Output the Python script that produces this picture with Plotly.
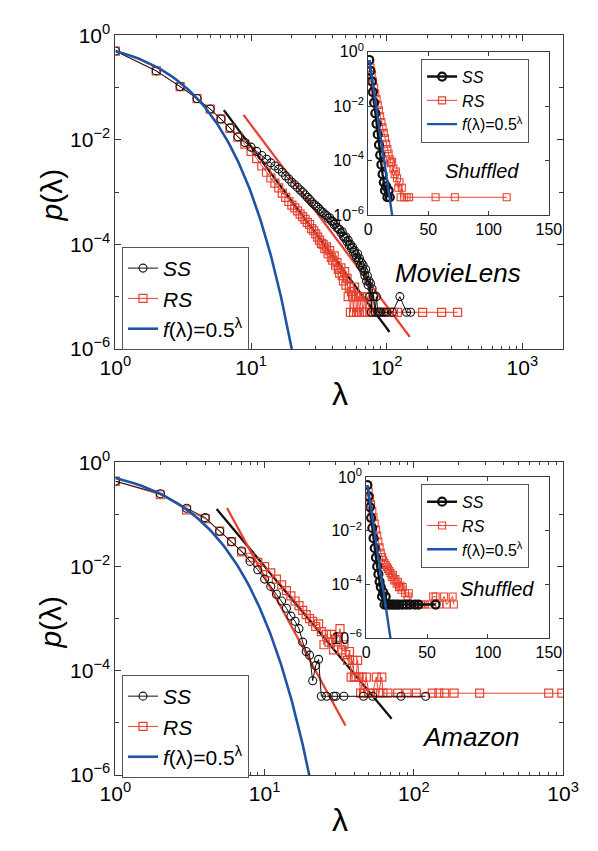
import numpy as np
import plotly.graph_objects as go

# ---------------- DATA ----------------
# MovieLens (main panel)
ss_ml_lam = list(range(1, 79)) + [80, 82, 84, 86, 88, 90, 95, 100, 110, 125, 140, 150]
ss_ml_log = [-0.30, -0.68, -0.98, -1.21, -1.41, -1.60, -1.77, -1.94, -2.05, -2.14,
             -2.22, -2.30, -2.37, -2.44, -2.50, -2.56, -2.62, -2.69, -2.75, -2.81,
             -2.86, -2.91, -2.96, -3.00, -3.05, -3.10, -3.14, -3.19, -3.23, -3.26,
             -3.29, -3.33, -3.37, -3.39, -3.43, -3.45, -3.50, -3.49, -3.55, -3.56,
             -3.62, -3.60, -3.68, -3.70, -3.72, -3.78, -3.76, -3.85, -3.88, -3.86,
             -3.95, -3.92, -4.02, -4.00, -4.08, -4.05, -4.15, -4.12, -4.20, -4.25,
             -4.18, -4.30, -4.27, -4.40, -4.35, -4.45, -4.40, -4.52, -4.60, -4.48,
             -4.70, -4.60, -4.78, -4.70, -5.00, -4.75, -5.30, -4.85,
             -5.00, -5.30, -5.00, -5.30, -5.30, -5.30, -5.30, -5.30, -5.30, -5.00, -5.30, -5.30]
rs_ml_lam = list(range(1, 61)) + [62, 63, 65, 67, 69, 70, 72, 75, 78, 80, 83, 87, 90, 95,
                                  100, 105, 112, 120, 184, 254, 333]
rs_ml_log = [-0.30, -0.68, -0.98, -1.21, -1.41, -1.60, -1.78, -1.95, -2.08, -2.22,
             -2.36, -2.50, -2.62, -2.73, -2.83, -2.92, -3.02, -3.10, -3.18, -3.25,
             -3.30, -3.36, -3.42, -3.47, -3.52, -3.58, -3.62, -3.70, -3.74, -3.80,
             -3.86, -3.92, -3.98, -4.00, -4.08, -4.05, -4.18, -4.12, -4.25, -4.30,
             -4.22, -4.40, -4.35, -4.48, -4.55, -4.45, -4.60, -4.70, -4.52, -4.78,
             -4.65, -5.00, -4.82, -5.30, -4.90, -5.00, -5.30, -4.82, -5.00, -5.30,
             -5.00, -5.30, -5.00, -5.30, -5.00, -5.30, -5.00, -5.30, -5.30, -5.00,
             -5.30, -5.30, -5.30, -5.30, -5.30, -5.30, -5.30, -5.30, -5.30, -5.30, -5.30]
fit_ss_ml_lam = [6.3, 105]
fit_ss_ml_p = [0.037, 2.1e-6]
fit_rs_ml_lam = [8.8, 148]
fit_rs_ml_p = [0.030, 1.7e-6]

# MovieLens shuffled (inset)
ss_mls_lam = list(range(1, 19))
ss_mls_log = [-0.30, -0.70, -1.09, -1.48, -1.87, -2.26, -2.65, -3.04, -3.42, -3.80,
              -4.15, -4.50, -4.80, -5.10, -4.95, -5.35, -5.10, -5.35]
rs_mls_lam = list(range(1, 29)) + [30, 32, 34, 56, 72, 115]
rs_mls_log = [-0.30, -0.58, -0.84, -1.08, -1.31, -1.53, -1.74, -1.95, -2.16, -2.37,
              -2.58, -2.78, -2.98, -3.18, -3.38, -3.58, -3.75, -3.95, -4.10, -4.05,
              -4.30, -4.50, -4.40, -4.65, -5.00, -4.80, -5.35, -5.00,
              -5.35, -5.35, -5.35, -5.35, -5.35, -5.35]

# Amazon (main panel)
ss_am_lam = list(range(1, 25)) + [26, 29, 30, 34, 46, 53, 82, 120]
ss_am_log = [-0.36, -0.60, -0.88, -1.06, -1.32, -1.52, -1.70, -1.90, -2.06, -2.24,
             -2.38, -2.53, -2.66, -2.80, -2.95, -3.05, -3.19, -3.45, -3.63, -3.70,
             -4.19, -3.90, -3.78, -4.49,
             -4.49, -4.49, -4.49, -4.49, -4.49, -4.49, -4.49, -4.49]
rs_am_lam = list(range(1, 47)) + [48, 50, 53, 56, 58, 61, 62, 67, 78, 90, 104, 133, 147,
                                  161, 186, 276, 801, 981]
rs_am_log = [-0.36, -0.62, -0.91, -1.08, -1.32, -1.52, -1.72, -1.82, -1.92, -2.00,
             -2.12, -2.24, -2.35, -2.46, -2.56, -2.66, -2.75, -2.84, -2.92, -3.00,
             -3.05, -3.15, -3.10, -3.25, -3.50, -3.30, -3.45, -3.30, -3.60, -3.40,
             -3.36, -3.19, -3.60, -3.50, -3.69, -3.80, -3.63, -4.12, -3.80, -4.12,
             -4.12, -3.80, -4.12, -4.43, -4.12, -4.43,
             -4.12, -4.43, -4.43, -4.12, -4.43, -4.12, -4.43, -4.43, -4.43, -4.43,
             -4.43, -4.43, -4.43, -4.43, -4.43, -4.43, -4.43, -4.43]
fit_ss_am_lam = [4.77, 71]
fit_ss_am_p = [0.128, 1.2e-5]
fit_rs_am_lam = [5.6, 34.8]
fit_rs_am_p = [0.133, 8.9e-6]

# Amazon shuffled (inset)
ss_ams_lam = list(range(1, 18)) + [19, 21, 23, 25, 27, 30, 33, 36, 40, 43, 57]
ss_ams_log = [-0.30, -0.72, -1.12, -1.52, -1.90, -2.28, -2.65, -3.00, -3.33, -3.62,
              -3.90, -4.10, -4.45, -4.30, -4.75, -4.45, -4.75,
              -4.75, -4.75, -4.75, -4.75, -4.75, -4.75, -4.75, -4.75, -4.75, -4.75, -4.75]
rs_ams_lam = list(range(1, 31)) + [32, 34, 35, 36, 38, 40, 42, 45, 48, 52, 55, 57, 60, 64, 66, 71, 72]
rs_ams_log = [-0.30, -0.54, -0.78, -1.02, -1.26, -1.50, -1.73, -1.96, -2.18, -2.40,
              -2.62, -2.82, -2.98, -3.10, -3.20, -3.28, -3.35, -3.42, -3.50, -3.58,
              -3.72, -3.65, -3.85, -3.80, -3.97, -3.90, -4.10, -4.05, -4.20, -4.10,
              -4.33, -4.45, -4.33, -4.75, -4.75, -4.75, -4.75, -4.75, -4.75, -4.75,
              -4.45, -4.45, -4.75, -4.45, -4.75, -4.45, -4.75]

# reference function f(lambda) = 0.5^lambda
f_lam = np.linspace(1, 20.5, 120)
f_val = 0.5 ** f_lam

# tick labels
main_x_tickvals = [1, 10, 100, 1000]
main_x_ticktext = ["10<sup>0</sup>", "10<sup>1</sup>", "10<sup>2</sup>", "10<sup>3</sup>"]
y_tickvals = [1e-6, 1e-4, 1e-2, 1]
y_ticktext = ["10<sup>\u22126</sup>", "10<sup>\u22124</sup>", "10<sup>\u22122</sup>", "10<sup>0</sup>"]
y_minorvals = [1e-5, 1e-3, 1e-1]
in_y_tickvals = [1e-6, 1e-4, 1e-2, 1]
in_y_ticktext = ["10<sup>\u22126</sup>", "10<sup>\u22124</sup>", "10<sup>\u22122</sup>", "10<sup>0</sup>"]
in_x_tickvals = [0, 50, 100, 150]
in_x_ticktext = ["0", "50", "100", "150"]

# ---------------- STYLE ----------------
W, H = 598, 851
BLACK = "#111111"
RED = "#e8412f"
BLUE = "#1f53a3"
AXC = "#3a3a3a"
INC = "#2e3d4c"
FONT = "Arial, Liberation Sans, sans-serif"


def px(x):
    return x / W


def py(y):
    return 1 - y / H


def p(vals):
    return [10 ** v for v in vals]


fig = go.Figure()

panels = [
    dict(xa="x", ya="y", xa2="x2", ya2="y2", leg="legend", leg2="legend2",
         ss=(ss_ml_lam, ss_ml_log), rs=(rs_ml_lam, rs_ml_log),
         fss=(fit_ss_ml_lam, fit_ss_ml_p), frs=(fit_rs_ml_lam, fit_rs_ml_p),
         sss=(ss_mls_lam, ss_mls_log), rss=(rs_mls_lam, rs_mls_log)),
    dict(xa="x3", ya="y3", xa2="x4", ya2="y4", leg="legend3", leg2="legend4",
         ss=(ss_am_lam, ss_am_log), rs=(rs_am_lam, rs_am_log),
         fss=(fit_ss_am_lam, fit_ss_am_p), frs=(fit_rs_am_lam, fit_rs_am_p),
         sss=(ss_ams_lam, ss_ams_log), rss=(rs_ams_lam, rs_ams_log)),
]

for P in panels:
    # main
    fig.add_trace(go.Scatter(x=P["fss"][0], y=P["fss"][1], mode="lines",
                             line=dict(color=BLACK, width=2.3), showlegend=False,
                             xaxis=P["xa"], yaxis=P["ya"]))
    fig.add_trace(go.Scatter(x=P["frs"][0], y=P["frs"][1], mode="lines",
                             line=dict(color=RED, width=2.3), showlegend=False,
                             xaxis=P["xa"], yaxis=P["ya"]))
    fig.add_trace(go.Scatter(x=P["rs"][0], y=p(P["rs"][1]), mode="lines+markers", name="<i>RS</i>",
                             line=dict(color=RED, width=1),
                             marker=dict(symbol="square-open", size=8, color=RED, line=dict(width=1.2)),
                             legend=P["leg"], legendrank=2, xaxis=P["xa"], yaxis=P["ya"]))
    fig.add_trace(go.Scatter(x=P["ss"][0], y=p(P["ss"][1]), mode="lines+markers", name="<i>SS</i>",
                             line=dict(color=BLACK, width=1),
                             marker=dict(symbol="circle-open", size=8, color=BLACK, line=dict(width=1.1)),
                             legend=P["leg"], legendrank=1, xaxis=P["xa"], yaxis=P["ya"]))
    fig.add_trace(go.Scatter(x=f_lam, y=f_val, mode="lines", name="<i>f</i>(\u03bb)=0.5<sup>\u03bb</sup>",
                             line=dict(color=BLUE, width=2.6),
                             legend=P["leg"], legendrank=3, xaxis=P["xa"], yaxis=P["ya"]))
    # inset
    fig.add_trace(go.Scatter(x=P["rss"][0], y=p(P["rss"][1]), mode="lines+markers", name="<i>RS</i>",
                             line=dict(color=RED, width=1),
                             marker=dict(symbol="square-open", size=7, color=RED, line=dict(width=1.1)),
                             legend=P["leg2"], legendrank=2, xaxis=P["xa2"], yaxis=P["ya2"]))
    fig.add_trace(go.Scatter(x=P["sss"][0], y=p(P["sss"][1]), mode="lines+markers", name="<i>SS</i>",
                             line=dict(color=BLACK, width=2.4),
                             marker=dict(symbol="circle-open", size=8, color=BLACK, line=dict(width=2.2)),
                             legend=P["leg2"], legendrank=1, xaxis=P["xa2"], yaxis=P["ya2"]))
    fig.add_trace(go.Scatter(x=f_lam, y=f_val, mode="lines", name="<i>f</i>(\u03bb)=0.5<sup>\u03bb</sup>",
                             line=dict(color=BLUE, width=2.4),
                             legend=P["leg2"], legendrank=3, xaxis=P["xa2"], yaxis=P["ya2"]))

minor_x = [m * 10 ** d for d in range(0, 4) for m in range(2, 10)]


def main_x(rng):
    return dict(type="log", range=rng, domain=[px(105), px(578)],
                tickmode="array", tickvals=main_x_tickvals, ticktext=main_x_ticktext,
                ticks="inside", ticklen=6, tickcolor=AXC, mirror="allticks",
                showline=True, linecolor=AXC, linewidth=1, showgrid=False, zeroline=False,
                tickfont=dict(family=FONT, size=21, color="black"),
                minor=dict(tickmode="array", tickvals=minor_x, ticks="inside", ticklen=3,
                           tickcolor=AXC, showgrid=False))


def main_y(dom):
    return dict(type="log", range=[-6, 0], domain=dom,
                tickmode="array", tickvals=y_tickvals, ticktext=y_ticktext,
                ticks="inside", ticklen=6, tickcolor=AXC, mirror="allticks",
                showline=True, linecolor=AXC, linewidth=1, showgrid=False, zeroline=False,
                tickfont=dict(family=FONT, size=21, color="black"),
                minor=dict(tickmode="array", tickvals=y_minorvals, ticks="inside", ticklen=4,
                           tickcolor=AXC, showgrid=False))


def in_x(dom):
    return dict(type="linear", range=[0, 150], domain=dom,
                tickmode="array", tickvals=in_x_tickvals, ticktext=in_x_ticktext,
                ticks="inside", ticklen=4, tickcolor=INC, mirror="allticks",
                showline=True, linecolor=INC, linewidth=1, showgrid=False, zeroline=False,
                tickfont=dict(family=FONT, size=16, color="black"))


def in_y(dom):
    return dict(type="log", range=[-6, 0], domain=dom,
                tickmode="array", tickvals=in_y_tickvals, ticktext=in_y_ticktext,
                ticks="inside", ticklen=4, tickcolor=INC, mirror="allticks",
                showline=True, linecolor=INC, linewidth=1, showgrid=False, zeroline=False,
                tickfont=dict(family=FONT, size=16, color="black"))


top_main_y = [py(345), py(22)]
bot_main_y = [py(784), py(462)]
top_in_x = [px(372), px(563)]
top_in_y = [py(207), py(39)]
bot_in_x = [px(370), px(563)]
bot_in_y = [py(643), py(477)]

xa1 = main_x([0, 3.3]); xa1["anchor"] = "y"
xa3 = main_x([0, 3]); xa3["anchor"] = "y3"
ya1 = main_y(top_main_y); ya1["anchor"] = "x"
ya3 = main_y(bot_main_y); ya3["anchor"] = "x3"
xa2 = in_x(top_in_x); xa2["anchor"] = "y2"
ya2 = in_y(top_in_y); ya2["anchor"] = "x2"
xa4 = in_x(bot_in_x); xa4["anchor"] = "y4"
ya4 = in_y(bot_in_y); ya4["anchor"] = "x4"


def legend(x, y, size):
    return dict(x=px(x), y=py(y), xanchor="left", yanchor="top", bgcolor="white",
                bordercolor="#555555", borderwidth=1, font=dict(family=FONT, size=size, color="black"),
                itemwidth=30, tracegroupgap=0)


annotations = [
    dict(text="<i>MovieLens</i>", x=px(467), y=py(267), font=dict(size=26)),
    dict(text="<i>Shuffled</i>", x=px(492), y=py(162), font=dict(size=20)),
    dict(text="<i>Amazon</i>", x=px(480), y=py(745), font=dict(size=26)),
    dict(text="<i>Shuffled</i>", x=px(508), y=py(592), font=dict(size=20)),
    dict(text="<i>p</i>(\u03bb)", x=px(37), y=py(187), font=dict(size=30), textangle=-90),
    dict(text="<i>p</i>(\u03bb)", x=px(37), y=py(627), font=dict(size=30), textangle=-90),
    dict(text="\u03bb", x=px(342), y=py(392), font=dict(size=32)),
    dict(text="\u03bb", x=px(342), y=py(830), font=dict(size=32)),
]
for a in annotations:
    a.update(xref="paper", yref="paper", showarrow=False, xanchor="center", yanchor="middle")
    a["font"].update(family=FONT, color="black")

fig.update_layout(
    width=W, height=H, margin=dict(l=0, r=0, t=0, b=0),
    paper_bgcolor="white", plot_bgcolor="white",
    xaxis=xa1, yaxis=ya1, xaxis2=xa2, yaxis2=ya2,
    xaxis3=xa3, yaxis3=ya3, xaxis4=xa4, yaxis4=ya4,
    legend=legend(112, 240, 21), legend2=legend(428, 46, 16),
    legend3=legend(112, 681, 21), legend4=legend(428, 484, 16),
    annotations=annotations,
    font=dict(family=FONT),
)

fig.write_html("out.html", config={"displayModeBar": False},
               post_script="document.body.style.margin='0';")
